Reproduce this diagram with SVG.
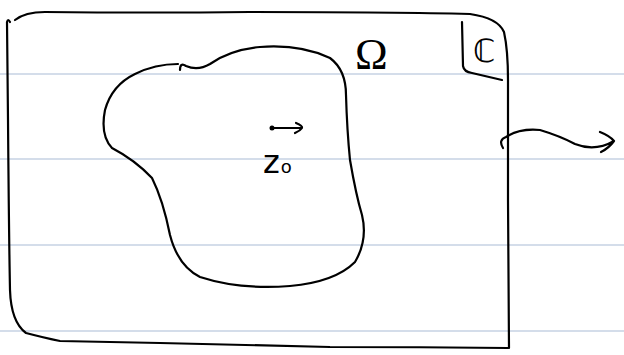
<svg xmlns="http://www.w3.org/2000/svg" width="624" height="355" viewBox="0 0 624 355">
<style>
.rule{stroke:#a9bbd6;stroke-width:1.2;fill:none}
.ink{stroke:#000;stroke-width:2.2;fill:none;stroke-linecap:round;stroke-linejoin:round}
.lbl{font-family:"DejaVu Sans","Liberation Sans",sans-serif;fill:#000}
.serif{font-family:"Liberation Serif","DejaVu Serif",serif}
</style>
<rect width="624" height="355" fill="#fff"/>
<g id="rules">
<line class="rule" x1="0" y1="74" x2="624" y2="74"/>
<line class="rule" x1="0" y1="159" x2="624" y2="159"/>
<line class="rule" x1="0" y1="245" x2="624" y2="245"/>
<line class="rule" x1="0" y1="331" x2="624" y2="331"/>
</g>
<g id="plane">
<path class="ink" d="M10,22 Q8,18 7,22 L8,120 Q9,240 10,290 Q11,322 26,333 Q45,338 60,341 L160,343 Q250,345 330,347 Q420,347 508,348"/>
<path class="ink" d="M15,20 Q25,12 45,12 Q150,13 250,12 Q400,12 470,14 Q498,18 504,32 Q508,50 508,80 L508,200 L509,348"/>
<path class="ink" d="M462,22 L463,66 Q464,72 472,73 L502,80"/>
<text class="lbl" x="473" y="62" font-size="32">ℂ</text>
</g>
<g id="omega">
<text class="lbl serif" x="355" y="69" font-size="44">Ω</text>
</g>
<g id="region">
<path class="ink" d="M180,70 Q180,62 186,66 Q198,71 210,64 Q230,50 260,47 Q300,44 330,58 Q346,70 346,95 Q347,130 350,160 Q356,195 362,215 Q368,240 355,262 Q335,282 290,286 Q240,290 200,277 Q178,266 170,235 Q163,200 152,178 Q135,160 112,148 Q100,135 105,110 Q112,85 135,74 Q155,64 178,64"/>
</g>
<g id="z0">
<circle cx="272" cy="128" r="2.5" fill="#000"/>
<path class="ink" d="M272,128 L302,128 M296,123 Q303,126 302,128 Q300,131 295,133"/>
<text class="lbl" x="263" y="173" font-size="32">z<tspan font-size="18" dx="1">o</tspan></text>
</g>
<g id="connectors">
<path class="ink" d="M503,148 Q498,140 506,137 Q520,128 540,130 Q560,136 575,144 Q595,152 614,141 M600,132 Q610,136 614,141 Q609,148 601,152"/>
</g>
</svg>
